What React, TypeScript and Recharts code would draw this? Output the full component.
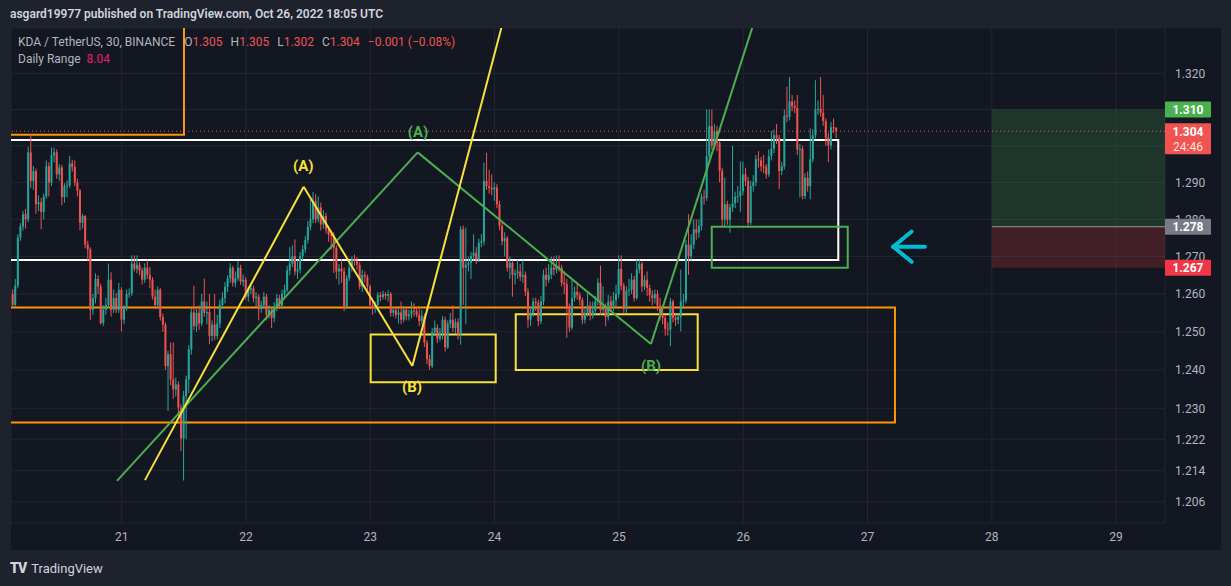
import React from 'react';
import {
  ComposedChart,
  Bar,
  XAxis,
  YAxis,
  CartesianGrid,
  ReferenceLine,
  ReferenceArea,
  ReferenceDot,
} from 'recharts';

// KDA/USDT 30m candles, Oct 20 02:30 -> Oct 26 18:00 (UTC)
const firstOpen = 1.2569;
const startDay = 20.1042;
const candlesPerDay = 48;

const closes = [
  1.2600, 1.2571, 1.2622, 1.2751, 1.2781, 1.2814, 1.2800, 1.2982, 1.2904, 1.2931,
  1.2841, 1.2846, 1.2820, 1.2862, 1.2944, 1.2900, 1.2974, 1.2982, 1.2922, 1.2941,
  1.2860, 1.2890, 1.2892, 1.2952, 1.2942, 1.2900, 1.2878, 1.2791, 1.2809, 1.2732,
  1.2719, 1.2558, 1.2589, 1.2640, 1.2620, 1.2523, 1.2558, 1.2571, 1.2638, 1.2558,
  1.2589, 1.2558, 1.2611, 1.2532, 1.2563, 1.2600, 1.2602, 1.2681, 1.2667, 1.2678,
  1.2663, 1.2638, 1.2670, 1.2651, 1.2638, 1.2593, 1.2571, 1.2611, 1.2539, 1.2519,
  1.2410, 1.2441, 1.2375, 1.2349, 1.2362, 1.2302, 1.2222, 1.2332, 1.2375, 1.2454,
  1.2551, 1.2515, 1.2550, 1.2522, 1.2580, 1.2550, 1.2552, 1.2489, 1.2519, 1.2489,
  1.2522, 1.2571, 1.2589, 1.2619, 1.2642, 1.2670, 1.2630, 1.2642, 1.2670, 1.2633,
  1.2638, 1.2593, 1.2611, 1.2615, 1.2589, 1.2593, 1.2560, 1.2571, 1.2593, 1.2545,
  1.2558, 1.2537, 1.2567, 1.2589, 1.2569, 1.2600, 1.2611, 1.2663, 1.2681, 1.2701,
  1.2660, 1.2665, 1.2701, 1.2719, 1.2744, 1.2780, 1.2800, 1.2850, 1.2800, 1.2832,
  1.2786, 1.2809, 1.2773, 1.2759, 1.2755, 1.2723, 1.2660, 1.2668, 1.2660, 1.2567,
  1.2642, 1.2670, 1.2692, 1.2688, 1.2678, 1.2620, 1.2651, 1.2646, 1.2620, 1.2571,
  1.2563, 1.2571, 1.2597, 1.2592, 1.2600, 1.2595, 1.2600, 1.2550, 1.2558, 1.2545,
  1.2551, 1.2532, 1.2558, 1.2541, 1.2546, 1.2556, 1.2554, 1.2545, 1.2528, 1.2541,
  1.2471, 1.2428, 1.2410, 1.2499, 1.2511, 1.2482, 1.2498, 1.2532, 1.2459, 1.2522,
  1.2532, 1.2510, 1.2525, 1.2493, 1.2773, 1.2670, 1.2678, 1.2683, 1.2701, 1.2710,
  1.2692, 1.2737, 1.2741, 1.2904, 1.2890, 1.2885, 1.2881, 1.2886, 1.2841, 1.2782,
  1.2741, 1.2750, 1.2670, 1.2683, 1.2651, 1.2655, 1.2660, 1.2646, 1.2651, 1.2606,
  1.2532, 1.2550, 1.2580, 1.2576, 1.2528, 1.2580, 1.2651, 1.2638, 1.2651, 1.2670,
  1.2665, 1.2674, 1.2670, 1.2630, 1.2626, 1.2567, 1.2511, 1.2589, 1.2606, 1.2597,
  1.2584, 1.2532, 1.2548, 1.2569, 1.2543, 1.2556, 1.2580, 1.2630, 1.2558, 1.2563,
  1.2539, 1.2580, 1.2567, 1.2583, 1.2600, 1.2667, 1.2622, 1.2560, 1.2609, 1.2612,
  1.2638, 1.2589, 1.2665, 1.2681, 1.2620, 1.2638, 1.2616, 1.2597, 1.2589, 1.2600,
  1.2569, 1.2543, 1.2537, 1.2508, 1.2506, 1.2580, 1.2537, 1.2532, 1.2539, 1.2580,
  1.2583, 1.2732, 1.2701, 1.2732, 1.2773, 1.2764, 1.2782, 1.2861, 1.2858, 1.2972,
  1.3054, 1.3001, 1.3040, 1.3008, 1.2931, 1.2799, 1.2841, 1.2799, 1.2832, 1.2843,
  1.2861, 1.2863, 1.2876, 1.2922, 1.2904, 1.2791, 1.2890, 1.2901, 1.2963, 1.2960,
  1.2944, 1.2943, 1.2922, 1.2972, 1.2992, 1.3029, 1.3022, 1.2931, 1.2943, 1.3083,
  1.3080, 1.3122, 1.3109, 1.3104, 1.2990, 1.2992, 1.2863, 1.2913, 1.2890, 1.2963,
  1.3029, 1.3100, 1.3102, 1.3091, 1.3068, 1.3022, 1.3001, 1.3051, 1.3050, 1.3040,
];

const highs = [
  1.2606, 1.2612, 1.2640, 1.2760, 1.2790, 1.2823, 1.2828, 1.2997, 1.3032, 1.2945,
  1.2938, 1.2865, 1.2858, 1.2870, 1.2960, 1.2955, 1.2995, 1.2995, 1.2990, 1.2950,
  1.2948, 1.2898, 1.2905, 1.2972, 1.2962, 1.2960, 1.2910, 1.2882, 1.2815, 1.2812,
  1.2742, 1.2725, 1.2600, 1.2655, 1.2650, 1.2628, 1.2570, 1.2590, 1.2681, 1.2658,
  1.2612, 1.2603, 1.2630, 1.2618, 1.2570, 1.2612, 1.2615, 1.2703, 1.2703, 1.2703,
  1.2685, 1.2670, 1.2682, 1.2690, 1.2672, 1.2645, 1.2612, 1.2620, 1.2616, 1.2548,
  1.2525, 1.2450, 1.2472, 1.2472, 1.2380, 1.2370, 1.2310, 1.2345, 1.2385, 1.2465,
  1.2562, 1.2622, 1.2560, 1.2570, 1.2600, 1.2641, 1.2580, 1.2600, 1.2530, 1.2600,
  1.2545, 1.2585, 1.2605, 1.2632, 1.2650, 1.2682, 1.2675, 1.2660, 1.2688, 1.2678,
  1.2652, 1.2645, 1.2620, 1.2630, 1.2622, 1.2605, 1.2600, 1.2582, 1.2605, 1.2600,
  1.2570, 1.2565, 1.2578, 1.2600, 1.2598, 1.2612, 1.2625, 1.2675, 1.2725, 1.2730,
  1.2746, 1.2690, 1.2712, 1.2730, 1.2755, 1.2795, 1.2859, 1.2874, 1.2868, 1.2862,
  1.2845, 1.2825, 1.2818, 1.2782, 1.2770, 1.2765, 1.2730, 1.2680, 1.2692, 1.2670,
  1.2650, 1.2690, 1.2700, 1.2705, 1.2698, 1.2685, 1.2665, 1.2660, 1.2652, 1.2625,
  1.2585, 1.2580, 1.2605, 1.2605, 1.2608, 1.2605, 1.2610, 1.2605, 1.2566, 1.2565,
  1.2560, 1.2580, 1.2568, 1.2565, 1.2558, 1.2580, 1.2575, 1.2565, 1.2560, 1.2558,
  1.2548, 1.2478, 1.2440, 1.2510, 1.2530, 1.2520, 1.2510, 1.2542, 1.2540, 1.2530,
  1.2550, 1.2570, 1.2535, 1.2535, 1.2782, 1.2783, 1.2778, 1.2700, 1.2712, 1.2760,
  1.2725, 1.2748, 1.2760, 1.2954, 1.2981, 1.2935, 1.2922, 1.2900, 1.2895, 1.2850,
  1.2790, 1.2765, 1.2755, 1.2700, 1.2690, 1.2665, 1.2690, 1.2680, 1.2690, 1.2660,
  1.2615, 1.2565, 1.2590, 1.2590, 1.2585, 1.2595, 1.2665, 1.2670, 1.2680, 1.2700,
  1.2700, 1.2703, 1.2703, 1.2678, 1.2660, 1.2640, 1.2575, 1.2640, 1.2620, 1.2630,
  1.2605, 1.2590, 1.2560, 1.2605, 1.2580, 1.2580, 1.2595, 1.2642, 1.2676, 1.2620,
  1.2575, 1.2598, 1.2595, 1.2605, 1.2625, 1.2703, 1.2703, 1.2630, 1.2620, 1.2640,
  1.2655, 1.2648, 1.2692, 1.2692, 1.2685, 1.2650, 1.2660, 1.2625, 1.2610, 1.2612,
  1.2610, 1.2590, 1.2560, 1.2545, 1.2525, 1.2590, 1.2585, 1.2548, 1.2550, 1.2665,
  1.2600, 1.2745, 1.2814, 1.2760, 1.2800, 1.2800, 1.2800, 1.2870, 1.2880, 1.3100,
  1.3100, 1.3100, 1.3060, 1.3055, 1.3015, 1.2940, 1.2913, 1.2850, 1.2842, 1.3000,
  1.2875, 1.2890, 1.2957, 1.2957, 1.2940, 1.2915, 1.2905, 1.2920, 1.2975, 1.2985,
  1.2970, 1.2975, 1.2950, 1.2990, 1.3040, 1.3045, 1.3060, 1.3030, 1.2955, 1.3100,
  1.3163, 1.3190, 1.3140, 1.3125, 1.3140, 1.3005, 1.3000, 1.2925, 1.2930, 1.3048,
  1.3045, 1.3181, 1.3125, 1.3190, 1.3140, 1.3075, 1.3035, 1.3065, 1.3075, 1.3050,
];

const lows = [
  1.2562, 1.2565, 1.2566, 1.2615, 1.2742, 1.2770, 1.2775, 1.2792, 1.2885, 1.2880,
  1.2815, 1.2822, 1.2773, 1.2800, 1.2855, 1.2862, 1.2890, 1.2955, 1.2910, 1.2905,
  1.2838, 1.2845, 1.2860, 1.2885, 1.2930, 1.2890, 1.2862, 1.2770, 1.2775, 1.2722,
  1.2690, 1.2532, 1.2545, 1.2575, 1.2600, 1.2519, 1.2515, 1.2545, 1.2562, 1.2540,
  1.2550, 1.2550, 1.2550, 1.2501, 1.2520, 1.2555, 1.2590, 1.2595, 1.2660, 1.2655,
  1.2650, 1.2625, 1.2630, 1.2640, 1.2615, 1.2585, 1.2560, 1.2560, 1.2530, 1.2500,
  1.2400, 1.2293, 1.2360, 1.2325, 1.2330, 1.2280, 1.2189, 1.2114, 1.2220, 1.2340,
  1.2440, 1.2505, 1.2500, 1.2505, 1.2515, 1.2540, 1.2520, 1.2467, 1.2475, 1.2478,
  1.2480, 1.2510, 1.2560, 1.2575, 1.2605, 1.2630, 1.2620, 1.2618, 1.2635, 1.2625,
  1.2620, 1.2585, 1.2580, 1.2600, 1.2578, 1.2565, 1.2530, 1.2550, 1.2560, 1.2530,
  1.2535, 1.2510, 1.2525, 1.2555, 1.2560, 1.2560, 1.2590, 1.2605, 1.2650, 1.2672,
  1.2650, 1.2640, 1.2655, 1.2690, 1.2710, 1.2735, 1.2770, 1.2790, 1.2790, 1.2792,
  1.2770, 1.2775, 1.2762, 1.2740, 1.2718, 1.2656, 1.2640, 1.2625, 1.2630, 1.2555,
  1.2560, 1.2635, 1.2660, 1.2675, 1.2665, 1.2612, 1.2605, 1.2630, 1.2610, 1.2560,
  1.2545, 1.2550, 1.2560, 1.2580, 1.2585, 1.2585, 1.2580, 1.2540, 1.2540, 1.2535,
  1.2522, 1.2520, 1.2525, 1.2530, 1.2530, 1.2535, 1.2540, 1.2538, 1.2515, 1.2520,
  1.2460, 1.2415, 1.2400, 1.2405, 1.2490, 1.2470, 1.2475, 1.2480, 1.2448, 1.2455,
  1.2510, 1.2500, 1.2495, 1.2480, 1.2466, 1.2571, 1.2520, 1.2660, 1.2640, 1.2690,
  1.2680, 1.2685, 1.2725, 1.2730, 1.2880, 1.2870, 1.2865, 1.2850, 1.2830, 1.2770,
  1.2730, 1.2700, 1.2660, 1.2640, 1.2593, 1.2625, 1.2640, 1.2635, 1.2630, 1.2595,
  1.2511, 1.2515, 1.2540, 1.2555, 1.2515, 1.2520, 1.2570, 1.2620, 1.2630, 1.2640,
  1.2650, 1.2655, 1.2660, 1.2620, 1.2600, 1.2484, 1.2500, 1.2505, 1.2580, 1.2585,
  1.2570, 1.2520, 1.2522, 1.2540, 1.2530, 1.2535, 1.2545, 1.2570, 1.2545, 1.2548,
  1.2515, 1.2530, 1.2555, 1.2555, 1.2565, 1.2590, 1.2610, 1.2548, 1.2550, 1.2595,
  1.2600, 1.2580, 1.2585, 1.2655, 1.2605, 1.2610, 1.2595, 1.2580, 1.2570, 1.2575,
  1.2555, 1.2530, 1.2520, 1.2490, 1.2490, 1.2462, 1.2525, 1.2515, 1.2520, 1.2501,
  1.2565, 1.2575, 1.2651, 1.2690, 1.2720, 1.2745, 1.2750, 1.2770, 1.2840, 1.2850,
  1.2960, 1.2990, 1.2990, 1.2985, 1.2900, 1.2782, 1.2782, 1.2785, 1.2764, 1.2820,
  1.2830, 1.2845, 1.2820, 1.2865, 1.2890, 1.2780, 1.2785, 1.2875, 1.2890, 1.2940,
  1.2930, 1.2925, 1.2910, 1.2915, 1.2960, 1.2980, 1.3005, 1.2882, 1.2920, 1.2935,
  1.3065, 1.3070, 1.3095, 1.3090, 1.2975, 1.2859, 1.2854, 1.2855, 1.2875, 1.2854,
  1.2955, 1.3020, 1.3085, 1.3080, 1.3055, 1.3000, 1.2955, 1.2990, 1.3035, 1.3020,
];

const dayTicks = [21, 22, 23, 24, 25, 26, 27, 28, 29];
const priceTicks = [1.206, 1.214, 1.222, 1.23, 1.24, 1.25, 1.26, 1.27, 1.28, 1.29, 1.3, 1.31, 1.32];
// tick labels sitting fully under a price tag are not shown
const coveredTicks = [1.3, 1.31];

// drawings, in (day, price)
const yellowWave = [
  { t: 21.187, p: 1.2115 },
  { t: 22.464, p: 1.2888 },
  { t: 23.338, p: 1.241 },
  { t: 24.124, p: 1.342 },
];
const greenWave = [
  { t: 20.962, p: 1.2113 },
  { t: 23.381, p: 1.2982 },
  { t: 25.258, p: 1.2468 },
  { t: 26.175, p: 1.344 },
];
const yellowLabels = [
  { t: 22.461, p: 1.2945, text: '(A)' },
  { t: 23.335, p: 1.2355, text: '(B)' },
];
const greenLabels = [
  { t: 23.384, p: 1.304, text: '(A)' },
  { t: 25.258, p: 1.241, text: '(B)' },
];
const orangeBoxes = [
  { t1: 19.5, t2: 21.501, p1: 1.303, p2: 1.4 },
  { t1: 19.5, t2: 27.221, p1: 1.2263, p2: 1.2564 },
];
const whiteBox = { t1: 19.5, t2: 26.765, p1: 1.2691, p2: 1.3016 };
const yellowBoxes = [
  { t1: 23.003, t2: 24.009, p1: 1.2368, p2: 1.2493 },
  { t1: 24.17, t2: 25.634, p1: 1.24, p2: 1.2546 },
];
const greenBox = { t1: 25.747, t2: 26.841, p1: 1.267, p2: 1.278 };
const longPosition = { t1: 28.0, t2: 29.6, entry: 1.278, target: 1.31, stop: 1.267 };
const arrow = {
  tip: { t: 27.207, p: 1.2726 },
  tail: { t: 27.462, p: 1.2726 },
  wingUp: { t: 27.355, p: 1.2767 },
  wingDown: { t: 27.355, p: 1.2686 },
};
const lastPrice = 1.304;
const priceTags = [
  { p: 1.31, text: '1.310', bg: '#4caf50' },
  { p: 1.304, text: '1.304', sub: '24:46', bg: '#f05350' },
  { p: 1.278, text: '1.278', bg: '#787b86' },
  { p: 1.267, text: '1.267', bg: '#f23645' },
];

const UP = '#26a69a';
const DOWN = '#ef5350';
const YELLOW = '#f7e13b';
const GREEN = '#4caf50';
const ORANGE = '#ff9800';
const AXIS_TEXT = '#b2b5be';

const X_DOMAIN = [20.1094, 29.3934];
const Y_DOMAIN = [1.2006, 1.3327];
const CHART_W = 1210;
const CHART_H = 522;

const candles = closes.map((c, i) => ({
  t: startDay + i / candlesPerDay,
  o: i === 0 ? firstOpen : closes[i - 1],
  h: highs[i],
  l: lows[i],
  c,
  range: [lows[i], highs[i]],
}));

const Candle = (props: any) => {
  const { x, y, width, height, payload } = props;
  if (x == null || !payload) return null;
  const { o, h, l, c } = payload;
  const top = Math.min(y, y + height);
  const full = Math.abs(height);
  const cx = x + width / 2;
  const span = Math.log(h) - Math.log(l) || 1e-9;
  const py = (p: number) => top + ((Math.log(h) - Math.log(p)) / span) * full;
  const bTop = py(Math.max(o, c));
  const bBot = py(Math.min(o, c));
  const color = c >= o ? UP : DOWN;
  return (
    <g>
      <rect x={cx - 0.5} y={top} width={1} height={Math.max(full, 1)} fill={color} />
      <rect x={cx - 1} y={bTop} width={2} height={Math.max(bBot - bTop, 1)} fill={color} />
    </g>
  );
};

const PriceTick = (props: any) => {
  const { x, y, payload } = props;
  if (coveredTicks.some((v) => Math.abs(v - payload.value) < 1e-6)) return <g />;
  return (
    <text x={x} y={y} dy="0.36em" textAnchor="start" fill={AXIS_TEXT} fontSize={12}>
      {Number(payload.value).toFixed(3)}
    </text>
  );
};

const PriceTag = ({ viewBox, text, sub, bg }: any) => {
  if (!viewBox) return null;
  const left = viewBox.x + viewBox.width;
  const y = viewBox.y;
  const h = sub ? 31 : 16;
  return (
    <g>
      <rect x={left} y={y - 8} width={46} height={h} fill={bg} rx={1} />
      <text x={left + 23} y={y + 4.5} textAnchor="middle" fill="#ffffff" fontSize={12} fontWeight={700}>
        {text}
      </text>
      {sub && (
        <text x={left + 23} y={y + 19.5} textAnchor="middle" fill="rgba(255,255,255,0.85)" fontSize={12}>
          {sub}
        </text>
      )}
    </g>
  );
};

const waveSegments = (pts: { t: number; p: number }[]) =>
  pts.slice(1).map((pt, i) => [
    { x: pts[i].t, y: pts[i].p },
    { x: pt.t, y: pt.p },
  ]);

const App = () => {
  return (
    <div
      style={{
        position: 'absolute',
        left: 0,
        top: 0,
        width: 1231,
        height: 586,
        background: '#1e222d',
        fontFamily: 'Roboto, "Noto Sans", sans-serif',
        overflow: 'hidden',
      }}
    >
      <div style={{ position: 'absolute', left: 10, top: 7, fontSize: 12, fontWeight: 600, color: '#d1d4dc' }}>
        asgard19977 published on TradingView.com, Oct 26, 2022 18:05 UTC
      </div>

      <div style={{ position: 'absolute', left: 11, top: 28, width: CHART_W, height: CHART_H, background: '#131722' }}>
        <ComposedChart width={CHART_W} height={CHART_H} data={candles} margin={{ top: 0, right: 0, bottom: 0, left: 0 }}>
          <CartesianGrid stroke="#232632" />
          <XAxis
            dataKey="t"
            type="number"
            domain={X_DOMAIN}
            ticks={dayTicks}
            allowDataOverflow
            axisLine={false}
            tickLine={false}
            height={27}
            tickMargin={3}
            interval={0}
            tick={{ fill: AXIS_TEXT, fontSize: 12 }}
          />
          <YAxis
            orientation="right"
            type="number"
            scale="log"
            domain={Y_DOMAIN}
            allowDataOverflow
            ticks={priceTicks}
            interval={0}
            width={56}
            axisLine={false}
            tickLine={false}
            tickMargin={4}
            tick={(p: any) => <PriceTick {...p} />}
          />

          <ReferenceArea
            x1={longPosition.t1}
            x2={longPosition.t2}
            y1={longPosition.entry}
            y2={longPosition.target}
            fill="#4caf50"
            fillOpacity={0.2}
            stroke="none"
            ifOverflow="hidden"
          />
          <ReferenceArea
            x1={longPosition.t1}
            x2={longPosition.t2}
            y1={longPosition.stop}
            y2={longPosition.entry}
            fill="#f44336"
            fillOpacity={0.2}
            stroke="none"
            ifOverflow="hidden"
          />
          <ReferenceLine
            segment={[
              { x: longPosition.t1, y: longPosition.entry },
              { x: longPosition.t2, y: longPosition.entry },
            ]}
            stroke="#9598a1"
            strokeWidth={1}
            ifOverflow="hidden"
          />

          <ReferenceLine y={lastPrice} stroke="#ef5350" strokeDasharray="1 3" strokeWidth={1} />

          {orangeBoxes.map((b, i) => (
            <ReferenceArea
              key={'ob' + i}
              x1={b.t1}
              x2={b.t2}
              y1={b.p1}
              y2={b.p2}
              fill="none"
              fillOpacity={0}
              stroke={ORANGE}
              strokeWidth={2}
              ifOverflow="hidden"
            />
          ))}
          <ReferenceArea
            x1={whiteBox.t1}
            x2={whiteBox.t2}
            y1={whiteBox.p1}
            y2={whiteBox.p2}
            fill="none"
            fillOpacity={0}
            stroke="#ffffff"
            strokeWidth={2}
            ifOverflow="hidden"
          />
          {yellowBoxes.map((b, i) => (
            <ReferenceArea
              key={'yb' + i}
              x1={b.t1}
              x2={b.t2}
              y1={b.p1}
              y2={b.p2}
              fill="none"
              fillOpacity={0}
              stroke={YELLOW}
              strokeWidth={2}
              ifOverflow="hidden"
            />
          ))}
          <ReferenceArea
            x1={greenBox.t1}
            x2={greenBox.t2}
            y1={greenBox.p1}
            y2={greenBox.p2}
            fill="none"
            fillOpacity={0}
            stroke={GREEN}
            strokeWidth={2}
            ifOverflow="hidden"
          />

          <Bar dataKey="range" barSize={2} isAnimationActive={false} shape={(p: any) => <Candle {...p} />} />

          {waveSegments(greenWave).map((seg, i) => (
            <ReferenceLine key={'gw' + i} segment={seg} stroke={GREEN} strokeWidth={2} ifOverflow="hidden" />
          ))}
          {waveSegments(yellowWave).map((seg, i) => (
            <ReferenceLine key={'yw' + i} segment={seg} stroke={YELLOW} strokeWidth={2} ifOverflow="hidden" />
          ))}

          {yellowLabels.map((l, i) => (
            <ReferenceDot
              key={'yl' + i}
              x={l.t}
              y={l.p}
              r={0}
              fill="none"
              stroke="none"
              label={{ value: l.text, position: 'center', fill: YELLOW, fontSize: 15, fontWeight: 700 }}
            />
          ))}
          {greenLabels.map((l, i) => (
            <ReferenceDot
              key={'gl' + i}
              x={l.t}
              y={l.p}
              r={0}
              fill="none"
              stroke="none"
              label={{ value: l.text, position: 'center', fill: GREEN, fontSize: 15, fontWeight: 700 }}
            />
          ))}

          {[
            [arrow.tip, arrow.tail],
            [arrow.tip, arrow.wingUp],
            [arrow.tip, arrow.wingDown],
          ].map((pair, i) => (
            <ReferenceLine
              key={'ar' + i}
              segment={[
                { x: pair[0].t, y: pair[0].p },
                { x: pair[1].t, y: pair[1].p },
              ]}
              stroke="#00bcd4"
              strokeWidth={4}
              strokeLinecap="round"
              ifOverflow="hidden"
            />
          ))}
        </ComposedChart>

        {/* price scale tags: a second chart on the same scales, stacked on top of the axis */}
        <div style={{ position: 'absolute', left: 0, top: 0, pointerEvents: 'none' }}>
          <ComposedChart
            width={CHART_W}
            height={CHART_H}
            data={candles}
            margin={{ top: 0, right: 56, bottom: 27, left: 0 }}
          >
            <XAxis dataKey="t" type="number" domain={X_DOMAIN} allowDataOverflow hide />
            <YAxis type="number" scale="log" domain={Y_DOMAIN} allowDataOverflow hide />
            {priceTags.map((tag, i) => (
              <ReferenceLine
                key={'pt' + i}
                y={tag.p}
                stroke="none"
                label={(props: any) => <PriceTag {...props} text={tag.text} sub={tag.sub} bg={tag.bg} />}
              />
            ))}
          </ComposedChart>
        </div>

        <div style={{ position: 'absolute', left: 7, top: 6, fontSize: 12, lineHeight: '17px', color: AXIS_TEXT }}>
          <div>
            <span>KDA / TetherUS, 30, BINANCE</span>
            <span style={{ marginLeft: 9 }}>
              O<span style={{ color: DOWN }}>1.305</span>
            </span>
            <span style={{ marginLeft: 8 }}>
              H<span style={{ color: DOWN }}>1.305</span>
            </span>
            <span style={{ marginLeft: 8 }}>
              L<span style={{ color: DOWN }}>1.302</span>
            </span>
            <span style={{ marginLeft: 8 }}>
              C<span style={{ color: DOWN }}>1.304</span>
            </span>
            <span style={{ marginLeft: 8, color: DOWN }}>−0.001 (−0.08%)</span>
          </div>
          <div>
            Daily Range <span style={{ color: '#e91e63', marginLeft: 3 }}>8.04</span>
          </div>
        </div>
      </div>

      <div
        style={{
          position: 'absolute',
          left: 10,
          top: 560,
          fontSize: 13,
          color: '#d1d4dc',
          display: 'flex',
          alignItems: 'center',
        }}
      >
        <span style={{ fontWeight: 900, fontSize: 14, letterSpacing: -1, marginRight: 5 }}>TV</span>
        <span>TradingView</span>
      </div>
    </div>
  );
};

export default App;
